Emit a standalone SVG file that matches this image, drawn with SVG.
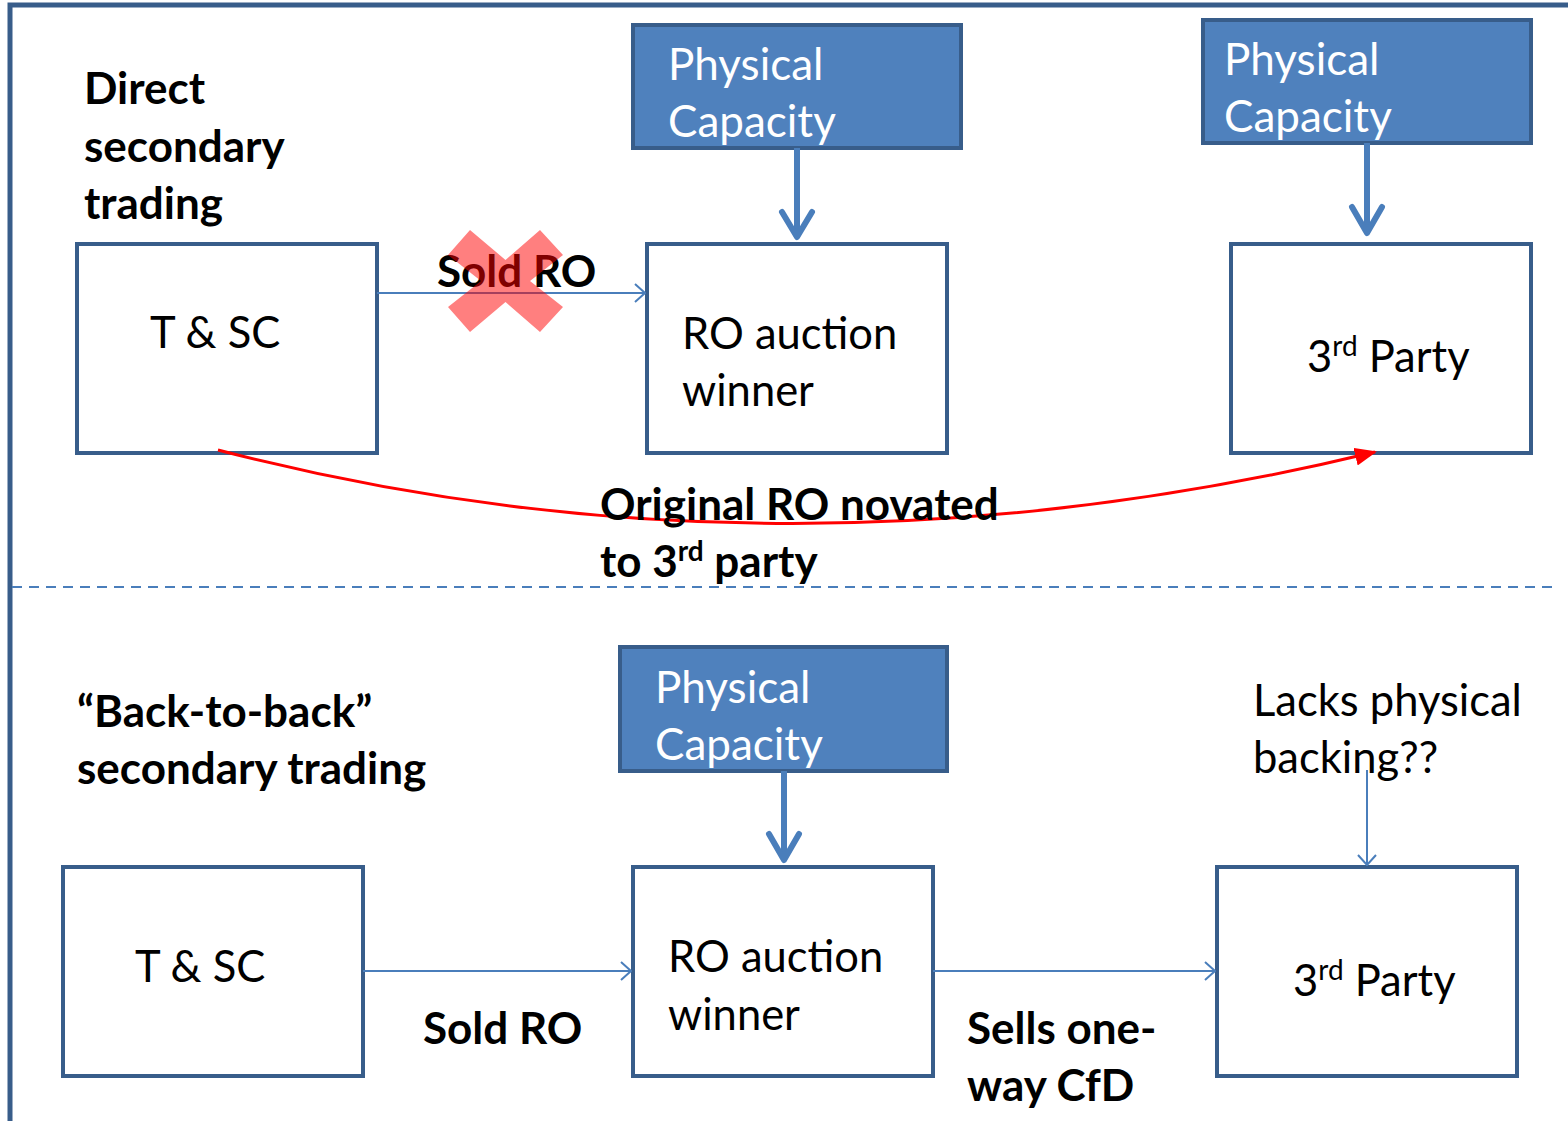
<svg xmlns="http://www.w3.org/2000/svg" width="1568" height="1121" viewBox="0 0 1568 1121">
  <style>
    .box { fill: #ffffff; stroke: #385d8a; stroke-width: 4; }
    .cap { fill: #4f81bd; stroke: #385d8a; stroke-width: 4; }
    .t { font-family: Lato, "Open Sans", sans-serif; font-size: 43.5px; fill: #000000; }
    .tw { font-family: Lato, "Open Sans", sans-serif; font-size: 44px; fill: #ffffff; }
    .b { font-family: Lato, "Open Sans", sans-serif; font-size: 44px; font-weight: bold; fill: #000000; }
    .thin { stroke: #4a7ebb; stroke-width: 2; fill: none; }
    .thick { stroke: #4a7ebb; stroke-width: 6; fill: none; }
    .head { stroke: #4a7ebb; fill: none; stroke-linecap: round; stroke-linejoin: round; }
  </style>
  <defs>
    <marker id="openThin" viewBox="0 0 12 20" refX="11" refY="10" markerWidth="12" markerHeight="20" markerUnits="userSpaceOnUse" orient="auto">
      <path d="M1,1 L11,10 L1,19" fill="none" stroke="#4a7ebb" stroke-width="2"/>
    </marker>
    <marker id="redHead" viewBox="0 0 22 18" refX="20" refY="9" markerWidth="22" markerHeight="18" markerUnits="userSpaceOnUse" orient="auto">
      <path d="M0,0 L22,9 L0,18 Z" fill="#ff0000"/>
    </marker>
  </defs>

  <rect width="1568" height="1121" fill="#ffffff"/>

  <!-- outer frame -->
  <path d="M10,1121 V5 H1568" fill="none" stroke="#385d8a" stroke-width="5"/>

  <!-- section divider -->
  <line x1="12" y1="587" x2="1558" y2="587" stroke="#4a7ebb" stroke-width="2" stroke-dasharray="10,7"/>

  <!-- section titles -->
  <g id="title-direct">
    <text class="b" x="84" y="104">Direct</text>
    <text class="b" x="84" y="162">secondary</text>
    <text class="b" x="84" y="219">trading</text>
  </g>
  <g id="title-b2b">
    <text class="b" x="77" y="727">“Back-to-back”</text>
    <text class="b" x="77" y="784">secondary trading</text>
  </g>

  <!-- top row nodes -->
  <g id="cap-top-mid">
    <rect class="cap" x="633" y="25" width="328" height="123"/>
    <text class="tw" x="668" y="80">Physical</text>
    <text class="tw" x="668" y="137">Capacity</text>
  </g>
  <g id="cap-top-right">
    <rect class="cap" x="1203" y="20" width="328" height="123"/>
    <text class="tw" x="1224" y="75">Physical</text>
    <text class="tw" x="1224" y="132">Capacity</text>
  </g>
  <g id="tsc-top">
    <rect class="box" x="77" y="244" width="300" height="209"/>
    <text class="t" x="150" y="348">T &amp; SC</text>
  </g>
  <g id="winner-top">
    <rect class="box" x="647" y="244" width="300" height="209"/>
    <text class="t" x="682" y="349">RO auction</text>
    <text class="t" x="682" y="406">winner</text>
  </g>
  <g id="third-top">
    <rect class="box" x="1231" y="244" width="300" height="209"/>
    <text class="t" x="1307" y="372">3<tspan font-size="28" dy="-16">rd</tspan><tspan dy="16"> Party</tspan></text>
  </g>

  <!-- bottom row nodes -->
  <g id="cap-bottom">
    <rect class="cap" x="620" y="647" width="327" height="124"/>
    <text class="tw" x="655" y="703">Physical</text>
    <text class="tw" x="655" y="760">Capacity</text>
  </g>
  <g id="tsc-bottom">
    <rect class="box" x="63" y="867" width="300" height="209"/>
    <text class="t" x="135" y="982">T &amp; SC</text>
  </g>
  <g id="winner-bottom">
    <rect class="box" x="633" y="867" width="300" height="209"/>
    <text class="t" x="668" y="972">RO auction</text>
    <text class="t" x="668" y="1030">winner</text>
  </g>
  <g id="third-bottom">
    <rect class="box" x="1217" y="867" width="300" height="209"/>
    <text class="t" x="1293" y="996">3<tspan font-size="28" dy="-16">rd</tspan><tspan dy="16"> Party</tspan></text>
  </g>

  <!-- connectors -->
  <g id="connectors">
    <!-- capacity feeds -->
    <line class="thick" x1="797" y1="148" x2="797" y2="238"/>
    <path class="head" stroke-width="6" d="M782,212 L797,237 L812,212"/>
    <line class="thick" x1="1367" y1="143" x2="1367" y2="234"/>
    <path class="head" stroke-width="6" d="M1352,207 L1367,233 L1382,207"/>
    <line class="thick" x1="784" y1="771" x2="784" y2="861"/>
    <path class="head" stroke-width="6" d="M769,834 L784,860 L799,834"/>

    <!-- sales flows -->
    <line class="thin" x1="377" y1="293" x2="645" y2="293" marker-end="url(#openThin)"/>
    <line class="thin" x1="363" y1="971" x2="631" y2="971" marker-end="url(#openThin)"/>
    <line class="thin" x1="933" y1="971" x2="1215" y2="971" marker-end="url(#openThin)"/>
    <line class="thin" x1="1367" y1="770" x2="1367" y2="865" marker-end="url(#openThin)"/>

    <!-- novation curve -->
    <path d="M218,450 Q780,596 1375,452" fill="none" stroke="#ff0000" stroke-width="3" marker-end="url(#redHead)"/>
  </g>

  <!-- top row labels -->
  <g id="label-sold-top">
    <text class="b" x="437" y="287">Sold RO</text>
    <path d="M470,230 L505.5,260 L540,230 L563,255 L530,281 L563,307 L540,332 L505.5,302 L470,332 L448,307 L481,281 L448,255 Z" fill="#ff0000" fill-opacity="0.5"/>
  </g>
  <g id="label-novated">
    <text class="b" x="600" y="520">Original RO novated</text>
    <text class="b" x="600" y="577">to 3<tspan font-size="28" dy="-16">rd</tspan><tspan dy="16"> party</tspan></text>
  </g>

  <!-- bottom row labels -->
  <g id="label-sold-bottom">
    <text class="b" x="423" y="1044">Sold RO</text>
  </g>
  <g id="label-cfd">
    <text class="b" x="967" y="1044">Sells one-</text>
    <text class="b" x="967" y="1101">way CfD</text>
  </g>
  <g id="label-lacks">
    <text class="t" x="1253" y="716">Lacks physical</text>
    <text class="t" x="1253" y="773">backing??</text>
  </g>
</svg>
